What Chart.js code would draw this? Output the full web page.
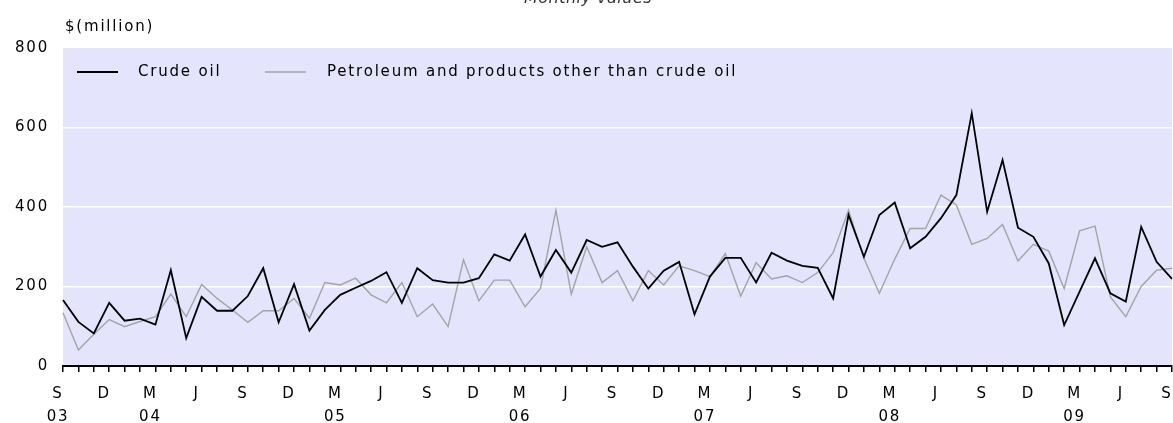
<!DOCTYPE html>
<html>
<head>
<meta charset="utf-8">
<script src="https://cdn.jsdelivr.net/npm/chart.js@4/dist/chart.umd.min.js"></script>
<style>
  body { margin: 0; background: #fff; }
  canvas { display: block; }
</style>
</head>
<body>
<canvas id="chart" width="1173" height="423"></canvas>
<script>
// monthly values, Sep 2003 .. Sep 2009, $(million)
var monthLetters = ['S','O','N','D','J','F','M','A','M','J','J','A'];
var yearLabels = ['03','04','05','06','07','08','09'];
var yTicks = [0,200,400,600,800];

var crudeOil = [166,111,82,159,114,119,104,241,70,174,
  139,139,176,246,110,206,89,141,179,197,
  214,236,159,246,216,210,210,221,281,265,
  331,225,292,235,317,300,311,250,195,240,
  262,130,225,272,272,210,285,265,252,247,
  170,380,275,380,411,296,325,372,430,636,
  388,518,348,325,258,103,187,271,183,162,
  350,262,219];

var petroleum = [134,40,80,117,99,112,124,181,124,205,
  170,141,110,139,139,170,120,210,204,221,
  179,159,210,124,156,99,267,164,216,216,
  149,195,392,181,300,210,240,164,240,204,
  252,240,225,283,176,260,219,227,210,235,
  285,392,271,183,269,346,346,430,405,306,
  321,356,264,306,289,195,340,352,174,124,
  200,241,246];

var categories = [];
for (var i = 0; i < crudeOil.length; i++) {
  categories.push(monthLetters[i % 12] + ' ' + yearLabels[Math.floor((i + 8) / 12)]);
}

var FONT = '"DejaVu Sans", Verdana, sans-serif';
var SPACING = '1.8px';

var paintPlugin = {
  id: 'paint',
  beforeDraw: function(chart) {
    var ctx = chart.ctx, a = chart.chartArea;
    ctx.letterSpacing = SPACING;
    ctx.save();
    ctx.fillStyle = 'rgb(228,228,252)';
    ctx.fillRect(a.left, a.top, a.right - a.left, a.bottom - a.top);
    ctx.restore();
  },
  afterDraw: function(chart) {
    var ctx = chart.ctx;
    ctx.save();
    ctx.letterSpacing = '0.5px';
    ctx.fillStyle = '#333';
    ctx.font = 'italic 16px ' + FONT;
    ctx.textAlign = 'center';
    ctx.textBaseline = 'alphabetic';
    ctx.fillText('Monthly values', 588, 3);

    ctx.letterSpacing = SPACING;
    ctx.fillStyle = '#000';
    ctx.font = '15px ' + FONT;
    ctx.textAlign = 'left';
    ctx.textBaseline = 'middle';
    ctx.fillText('$(million)', 65, 27);

    // legend inside the plot
    var y = 72;
    var items = [[77, 138], [265, 327]];
    chart.data.datasets.forEach(function(ds, k) {
      ctx.strokeStyle = ds.borderColor;
      ctx.lineWidth = ds.borderWidth;
      ctx.beginPath();
      ctx.moveTo(items[k][0], y);
      ctx.lineTo(items[k][0] + 41, y);
      ctx.stroke();
      ctx.fillStyle = '#000';
      ctx.fillText(ds.label, items[k][1], y);
    });
    ctx.restore();
  }
};

new Chart(document.getElementById('chart'), {
  type: 'line',
  data: {
    labels: categories,
    datasets: [
      { label: 'Crude oil', data: crudeOil, borderColor: '#000', borderWidth: 1.8,
        pointRadius: 0, tension: 0 },
      { label: 'Petroleum and products other than crude oil', data: petroleum,
        borderColor: '#a4a4a4', borderWidth: 1.4, pointRadius: 0, tension: 0 }
    ]
  },
  options: {
    responsive: false,
    animation: false,
    layout: { padding: { top: 48, right: 1, left: 0, bottom: 0 } },
    plugins: { legend: { display: false }, tooltip: { enabled: false } },
    scales: {
      x: {
        type: 'category',
        offset: false,
        afterFit: function(s) { s.paddingLeft = 0; s.paddingRight = 0; s.height = 57; },
        border: { display: true, color: '#000', width: 2 },
        grid: { offset: false, drawOnChartArea: false, drawTicks: true, tickLength: 6,
                color: '#000', lineWidth: 1.5 },
        ticks: {
          autoSkip: false, maxRotation: 0, minRotation: 0, padding: 11, labelOffset: -5,
          color: '#000', font: { family: FONT, size: 15, lineHeight: '23px' },
          callback: function(v, i) {
            if (i % 3 !== 0) return '';
            var m = monthLetters[i % 12];
            if (i === 0 || i % 12 === 6) return [m, yearLabels[Math.floor((i + 8) / 12)]];
            return m;
          }
        }
      },
      y: {
        min: 0, max: 800,
        afterFit: function(s) { s.width = 63; },
        afterBuildTicks: function(s) { s.ticks = yTicks.map(function(v) { return { value: v }; }); },
        border: { display: false },
        grid: {
          drawTicks: false, tickLength: 0, lineWidth: 1.5,
          color: function(c) { return (c.tick && c.tick.value > 0 && c.tick.value < 800) ? '#fff' : 'rgba(0,0,0,0)'; }
        },
        ticks: { padding: 14, color: '#000', font: { family: FONT, size: 15 } }
      }
    }
  },
  plugins: [paintPlugin]
});
</script>
</body>
</html>
